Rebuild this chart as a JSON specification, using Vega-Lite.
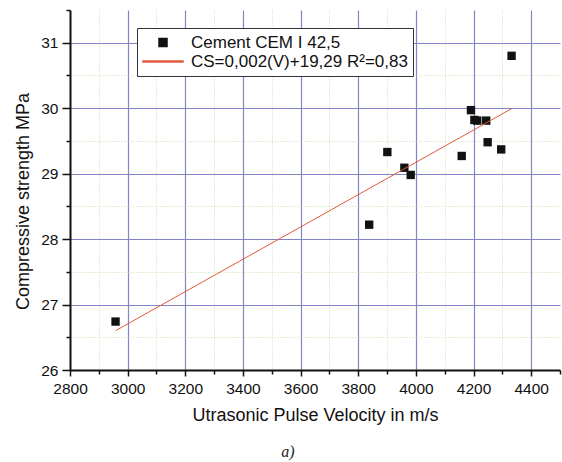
{
  "$schema": "https://vega.github.io/schema/vega-lite/v6.json",
  "width": 490,
  "height": 360,
  "autosize": {"type": "none"},
  "padding": {"left": 70, "top": 10, "right": 2, "bottom": 92},
  "background": "white",
  "config": {"view": {"stroke": null}, "font": "Liberation Sans"},
  "title": {"text": "a)", "orient": "bottom", "font": "Liberation Serif", "fontStyle": "italic", "fontWeight": "normal", "fontSize": 16, "color": "#222", "dx": -27, "offset": 19},
  "datasets": {
    "points": [
      {"V": 2958, "CS": 26.74},
      {"V": 3838, "CS": 28.22},
      {"V": 3901, "CS": 29.33},
      {"V": 3960, "CS": 29.09},
      {"V": 3982, "CS": 28.98},
      {"V": 4159, "CS": 29.27},
      {"V": 4191, "CS": 29.97},
      {"V": 4203, "CS": 29.82},
      {"V": 4213, "CS": 29.81},
      {"V": 4244, "CS": 29.81},
      {"V": 4249, "CS": 29.48},
      {"V": 4296, "CS": 29.37},
      {"V": 4332, "CS": 30.80}
    ],
    "fit": [
      {"V": 2958, "CS": 26.60},
      {"V": 4335, "CS": 30.00}
    ]
  },
  "encoding": {
    "x": {
      "field": "V", "type": "quantitative",
      "scale": {"domain": [2800, 4500], "nice": false, "zero": false},
      "axis": {
        "title": "Utrasonic Pulse Velocity in m/s",
        "titleFontSize": 18, "titleFontWeight": "normal", "titleColor": "#111", "titlePadding": 10,
        "values": [2800, 2900, 3000, 3100, 3200, 3300, 3400, 3500, 3600, 3700, 3800, 3900, 4000, 4100, 4200, 4300, 4400, 4500],
        "labelExpr": "datum.value % 200 === 0 ? '' + datum.value : ''",
        "labelFontSize": 15.5, "labelColor": "#111", "labelFlush": false, "labelOverlap": false, "labelPadding": 5,
        "domainColor": "#111", "domainWidth": 2,
        "tickColor": "#111", "tickWidth": 1.5,
        "tickSize": {"condition": {"test": "datum.value % 200 === 0", "value": 6}, "value": 4},
        "grid": true,
        "gridColor": {"condition": {"test": "datum.value % 200 === 0", "value": "#8383c8"}, "value": "#c9ddab"},
        "gridDash": {"condition": {"test": "datum.value % 200 === 0", "value": []}, "value": [1, 2]},
        "gridWidth": {"condition": {"test": "datum.value % 200 === 0", "value": 1.2}, "value": 1},
        "gridOpacity": {"condition": {"test": "datum.value === 2800 || datum.value === 4500", "value": 0}, "value": 1}
      }
    },
    "y": {
      "field": "CS", "type": "quantitative",
      "scale": {"domain": [26, 31.5], "nice": false, "zero": false},
      "axis": {
        "title": "Compressive strength MPa",
        "titleFontSize": 18, "titleFontWeight": "normal", "titleColor": "#111", "titlePadding": 8, "titleY": 191,
        "values": [26, 26.5, 27, 27.5, 28, 28.5, 29, 29.5, 30, 30.5, 31, 31.5],
        "labelExpr": "datum.value % 1 === 0 ? '' + datum.value : ''",
        "labelFontSize": 15.5, "labelColor": "#111", "labelFlush": false, "labelOverlap": false, "labelPadding": 4,
        "domainColor": "#111", "domainWidth": 2,
        "tickColor": "#111", "tickWidth": 1.5,
        "tickSize": {"condition": {"test": "datum.value % 1 === 0", "value": 8}, "value": 4},
        "grid": true,
        "gridColor": {"condition": {"test": "datum.value % 1 === 0", "value": "#8383c8"}, "value": "#c9ddab"},
        "gridDash": {"condition": {"test": "datum.value % 1 === 0", "value": []}, "value": [1, 2]},
        "gridWidth": {"condition": {"test": "datum.value % 1 === 0", "value": 1.2}, "value": 1},
        "gridOpacity": {"condition": {"test": "datum.value === 26 || datum.value === 31.5", "value": 0}, "value": 1}
      }
    }
  },
  "layer": [
    {
      "data": {"name": "points"},
      "mark": {"type": "point", "filled": true, "size": 1750, "opacity": 1},
      "encoding": {
        "color": {
          "datum": "Cement CEM I 42,5",
          "scale": {"domain": ["Cement CEM I 42,5", "CS=0,002(V)+19,29 R²=0,83"], "range": ["#111111", "#e05a3c"]},
          "legend": {
            "title": null, "orient": "none", "legendX": 67, "legendY": 18, "direction": "vertical",
            "fillColor": "white", "strokeColor": "#333", "padding": 5,
            "labelFontSize": 17, "labelFont": "Liberation Sans", "labelColor": "#111", "labelOffset": 7, "labelLimit": 400,
            "symbolSize": 1600, "clipHeight": 19, "rowPadding": 0
          }
        },
        "shape": {
          "datum": "Cement CEM I 42,5",
          "scale": {"domain": ["Cement CEM I 42,5", "CS=0,002(V)+19,29 R²=0,83"], "range": ["M-0.2,-0.2H0.2V0.2H-0.2Z", "M-1,-0.022H1V0.022H-1Z"]},
          "legend": {
            "title": null, "orient": "none", "legendX": 67, "legendY": 18, "direction": "vertical",
            "fillColor": "white", "strokeColor": "#333", "padding": 5,
            "labelFontSize": 17, "labelFont": "Liberation Sans", "labelColor": "#111", "labelOffset": 7, "labelLimit": 400,
            "symbolSize": 1600, "clipHeight": 19, "rowPadding": 0
          }
        }
      }
    },
    {
      "data": {"name": "fit"},
      "mark": {"type": "line", "strokeWidth": 1},
      "encoding": {
        "color": {"datum": "CS=0,002(V)+19,29 R²=0,83"}
      }
    }
  ]
}
